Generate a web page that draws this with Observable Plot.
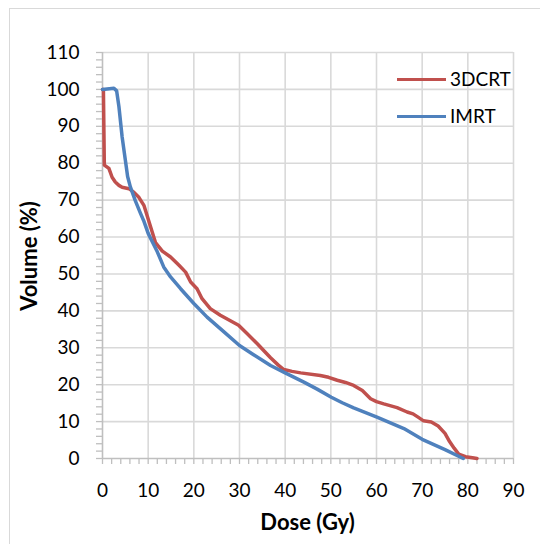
<!DOCTYPE html>
<html><head><meta charset="utf-8">
<script src="https://cdn.jsdelivr.net/npm/d3@7"></script>
<script src="https://cdn.jsdelivr.net/npm/@observablehq/plot@0.6"></script>
<style>
body{margin:0;background:#fff;}
#wrap{position:relative;width:540px;height:544px;overflow:hidden;font-family:Lato,sans-serif;color:#000;}
#frame{position:absolute;left:9px;top:8px;width:600px;height:600px;border:1px solid #d9d9d9;}
#chart{position:absolute;left:0;top:0;}
.legline{position:absolute;left:397px;width:49px;height:3px;}
.legtext{position:absolute;left:450px;font-size:19px;line-height:20px;}
.title{position:absolute;font-weight:bold;font-size:22px;line-height:24px;white-space:nowrap;}
</style></head>
<body>
<div id="wrap">
  <div id="frame"></div>
  <div id="chart"></div>
</div>
<script>
const seriesNames = ["3DCRT", "IMRT"];
const seriesColors = ["#C0504D", "#4F81BD"];
const xTicks = [0,10,20,30,40,50,60,70,80,90];
const yTicks = [0,10,20,30,40,50,60,70,80,90,100,110];
const xTitle = "Dose (Gy)";
const yTitle = "Volume (%)";

const doseA = [0,0.2,0.4,1.4,2.1,2.8,3.6,4.3,5.8,6.9,8.0,9.1,10.1,11.6,13.1,14.9,16.7,18.2,19.3,20.7,21.8,23.6,25.8,28.0,29.8,31.7,33.9,35.5,36.8,38.5,39.7,41.5,43.4,47.7,49.5,51.4,53.2,55.0,56.9,58.7,60.0,61.6,64.5,66.7,68.0,69.1,70.3,72.0,73.5,75.0,76.0,77.0,78.0,79.5,81.0,82.0];
const volA  = [100,100,79.5,78.6,76.2,74.9,74.0,73.5,73.1,72.1,70.7,68.5,64.5,58.5,56.2,54.6,52.4,50.5,47.8,46.0,43.3,40.6,38.8,37.3,36.1,33.8,31.1,29.0,27.3,25.3,24.1,23.6,23.2,22.5,22.0,21.2,20.6,19.8,18.4,16.2,15.4,14.8,13.8,12.6,12.1,11.2,10.2,9.9,8.8,6.8,4.6,2.8,1.2,0.5,0.2,0];

const doseB = [0,1.5,2.5,3.1,3.6,4.3,5.0,5.5,6.1,7.2,8.3,9.0,10.0,12.0,13.4,14.9,17.1,20.0,22.9,26.6,30.0,33.0,36.8,40.0,44.1,47.0,50.1,52.5,55.0,60.1,66.0,70.0,75.0,79.0];
const volB  = [100,100.2,100.3,99.6,95.3,87.1,80.9,76.4,73.6,69.8,66.5,64.5,61.0,56.0,51.9,49.2,46.0,42.0,38.3,34.3,30.6,28.2,25.2,23.2,20.7,18.8,16.6,15.1,13.7,11.2,8.1,5.2,2.4,0];

const dataA = doseA.map((d,i)=>({dose:d, vol:volA[i]}));
const dataB = doseB.map((d,i)=>({dose:d, vol:volB[i]}));
const minorX = d3.range(0, 91, 2);
const minorY = d3.range(0, 111, 2);

const chart = Plot.plot({
  width: 540, height: 544,
  marginLeft: 102, marginRight: 27, marginTop: 52, marginBottom: 86,
  style: {fontFamily: "Lato, sans-serif", fontSize: "19px", color: "#000", background: "transparent"},
  x: {domain: [0, 90]},
  y: {domain: [0, 110]},
  marks: [
    Plot.gridX(xTicks.filter(d => d > 0), {stroke: "#d9d9d9", strokeOpacity: 1, strokeWidth: 1.6}),
    Plot.gridY(yTicks.filter(d => d > 0), {stroke: "#d9d9d9", strokeOpacity: 1, strokeWidth: 1.6}),
    Plot.axisX(minorX, {tickSize: 6, text: null, stroke: "#bfbfbf", strokeWidth: 1.3, label: null}),
    Plot.axisY(minorY, {tickSize: 6, text: null, stroke: "#bfbfbf", strokeWidth: 1.3, label: null}),
    Plot.axisX(xTicks, {tickSize: 0, tickPadding: 25, label: null, fill: "#000"}),
    Plot.axisY(yTicks, {tickSize: 0, tickPadding: 23, label: null, fill: "#000"}),
    Plot.ruleX([0], {stroke: "#bfbfbf", strokeWidth: 1.6}),
    Plot.ruleY([0], {stroke: "#bfbfbf", strokeWidth: 1.6}),
    Plot.line(dataA, {x: "dose", y: "vol", stroke: seriesColors[0], strokeWidth: 3.5, curve: "linear"}),
    Plot.line(dataB, {x: "dose", y: "vol", stroke: seriesColors[1], strokeWidth: 3.5, curve: "linear"})
  ]
});
document.getElementById("chart").appendChild(chart);

const wrap = document.getElementById("wrap");
seriesNames.forEach((name, i) => {
  const cy = 79 + i * 37;
  const l = document.createElement("div");
  l.className = "legline";
  l.style.top = (cy - 1.5) + "px";
  l.style.background = seriesColors[i];
  wrap.appendChild(l);
  const t = document.createElement("div");
  t.className = "legtext";
  t.style.top = (cy - 10) + "px";
  t.textContent = name;
  wrap.appendChild(t);
});
const xt = document.createElement("div");
xt.className = "title";
xt.textContent = xTitle;
xt.style.left = "307.5px";
xt.style.top = "510px";
xt.style.transform = "translateX(-50%)";
wrap.appendChild(xt);
const yt = document.createElement("div");
yt.className = "title";
yt.textContent = yTitle;
yt.style.left = "28.5px";
yt.style.top = "255.5px";
yt.style.transform = "translate(-50%,-50%) rotate(-90deg)";
wrap.appendChild(yt);
</script>
</body></html>
